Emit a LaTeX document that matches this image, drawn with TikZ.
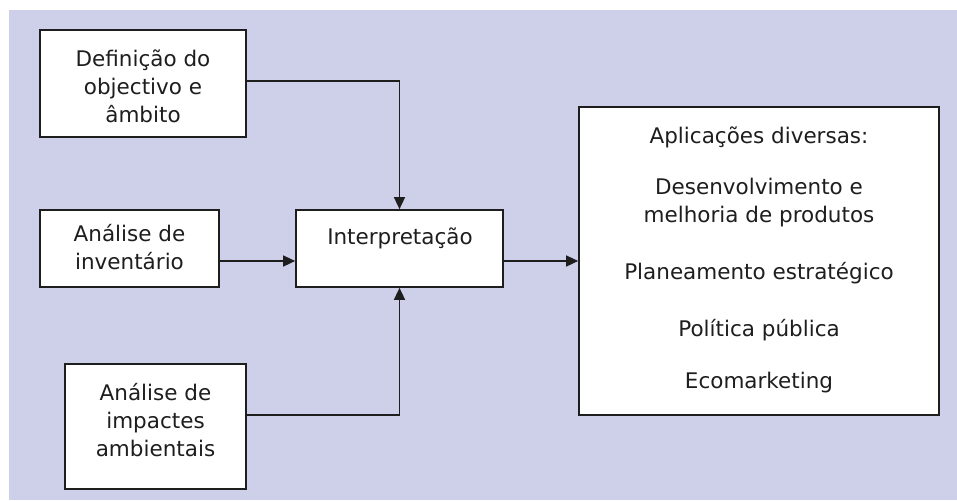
\documentclass[tikz,border=0pt]{standalone}
\usepackage{fontspec}
\setmainfont{DejaVu Sans}
\usetikzlibrary{arrows.meta}
\definecolor{bgc}{HTML}{CDD0E8}
\definecolor{ink}{HTML}{1E1E1E}
\tikzset{
  box/.style={draw=ink, line width=1.7pt, fill=white, inner sep=0pt, align=center,
    font=\fontsize{21.5}{28}\selectfont},
  conn/.style={draw=ink, line width=1.5pt, -{Triangle[length=12pt,width=11pt]}},
  txt/.style={inner sep=0pt, align=center, font=\fontsize{21.5}{28}\selectfont, text=ink}
}
\begin{document}
\begin{tikzpicture}[x=1pt,y=-1pt]
\useasboundingbox (0,0) rectangle (957,500);
\fill[bgc] (9,10) rectangle (957,500);
% boxes
\node[box, minimum width=206pt, minimum height=107pt] (def) at (143,83.5) {};
\node[txt] (deft) at (143,86) {Definição do\\objectivo e\\âmbito};
\node[box, minimum width=179pt, minimum height=77pt] (inv) at (129.5,248.5) {};
\node[txt] (invt) at (129.5,247) {Análise de\\inventário};
\node[box, minimum width=207pt, minimum height=77pt] (int) at (399.5,248.5) {};
\node[txt] (intt) at (400,238) {Interpretação};
\node[box, minimum width=181pt, minimum height=125pt] (imp) at (155.5,426.5) {};
\node[txt] (impt) at (155.5,420) {Análise de\\impactes\\ambientais};
\node[box, minimum width=360pt, minimum height=308pt] (app) at (759,261) {};
\node[txt] (a1) at (759,137) {Aplicações diversas:};
\node[txt] (a2) at (759,202.5) {Desenvolvimento e\\melhoria de produtos};
\node[txt] (a4) at (759,273) {Planeamento estratégico};
\node[txt] (a5) at (759,330) {Política pública};
\node[txt] (a6) at (759,383) {Ecomarketing};
% connectors
\coordinate (c1) at (def.east |- 0,81);
\coordinate (c3) at (imp.east |- 0,415);
\draw[conn] (c1) -| (int.north);
\draw[conn] (c3) -| (int.south);
\draw[conn] (inv.east |- 0,261) -- (int.west |- 0,261);
\draw[conn] (int.east |- 0,261) -- (app.west |- 0,261);
\end{tikzpicture}
\end{document}
